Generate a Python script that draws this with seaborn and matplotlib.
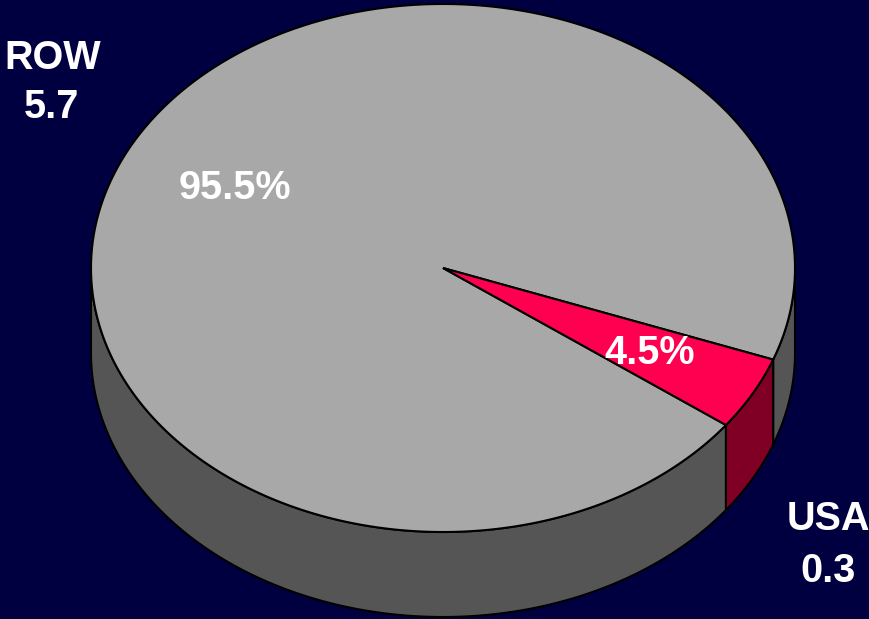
import numpy as np
import matplotlib
matplotlib.use("Agg")
import matplotlib.pyplot as plt
import seaborn as sns
from matplotlib.patches import Polygon

# ---- data ----
categories = ["ROW", "USA"]
values = [5.7, 0.3]
shares = [95.5, 4.5]
pct_labels = ["95.5%", "4.5%"]

sns.set_theme(style="dark")
plt.rcParams['font.family'] = ['Liberation Sans', 'DejaVu Sans']

W, H = 869, 619
fig = plt.figure(figsize=(W / 100, H / 100), dpi=100)
bg = "#000040"
fig.patch.set_facecolor(bg)
ax = fig.add_axes([0, 0, 1, 1])
ax.set_facecolor(bg)
ax.set_xlim(0, W)
ax.set_ylim(H, 0)
ax.axis("off")

top_colors = ["#A8A8A8", "#FF0050"]
side_colors = ["#555555", "#800025"]

cx, cy, a, b, depth = 443, 268, 352, 264, 85
usa_start = 20.3
ranges = []
ranges.append((usa_start + shares[1] / 100 * 360, usa_start + 360))  # ROW
ranges.append((usa_start, usa_start + shares[1] / 100 * 360))        # USA


def pt(t, dz=0.0):
    r = np.radians(t)
    return cx + a * np.cos(r), cy + b * np.sin(r) + dz


# side faces (visible front half: 0..180 deg, mod 360)
for (t0, t1), col in zip(ranges, side_colors):
    for k in (-1, 0, 1):
        lo = max(t0, 0 + 360 * k)
        hi = min(t1, 180 + 360 * k)
        if hi <= lo:
            continue
        ts = np.linspace(lo, hi, 200)
        topp = [pt(t) for t in ts]
        botp = [pt(t, depth) for t in ts[::-1]]
        ax.add_patch(Polygon(topp + botp, closed=True, facecolor=col,
                             edgecolor="black", lw=1.5, zorder=1))

# top faces
for (t0, t1), col in zip(ranges, top_colors):
    ts = np.linspace(t0, t1, 600)
    pts = [(cx, cy)] + [pt(t) for t in ts]
    ax.add_patch(Polygon(pts, closed=True, facecolor=col,
                         edgecolor="black", lw=1.5, zorder=2, joinstyle="miter"))

fs = 28.5
txt = dict(color="white", fontweight="bold", fontsize=fs, ha="center", va="center", zorder=5)
ax.text(235, 188, pct_labels[0], **txt)
ax.text(650, 353, pct_labels[1], **txt)
ax.text(53, 58, categories[0], **txt)
ax.text(51, 107, f"{values[0]:.1f}", **txt)
ax.text(828, 519, categories[1], **txt)
ax.text(828, 571, f"{values[1]:.1f}", **txt)

fig.savefig("out.png", dpi=100, facecolor=bg)
